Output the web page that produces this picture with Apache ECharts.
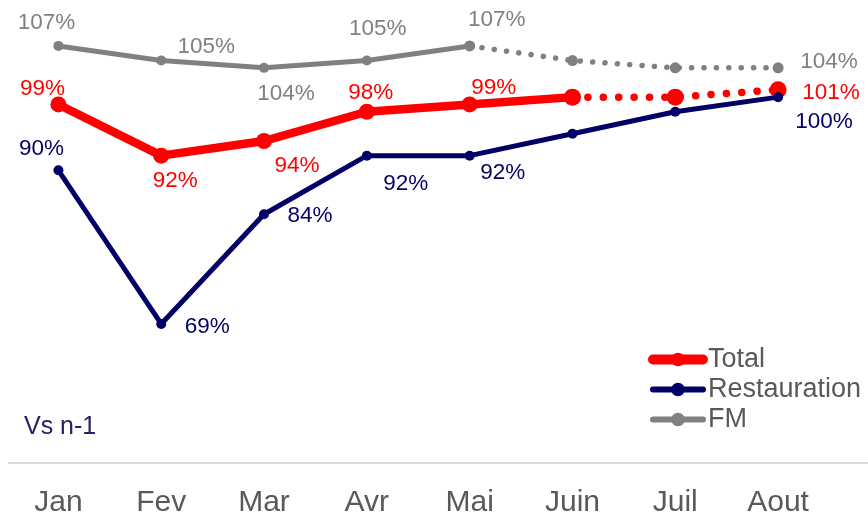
<!DOCTYPE html>
<html>
<head>
<meta charset="utf-8">
<script src="https://cdn.jsdelivr.net/npm/echarts@6/dist/echarts.min.js"></script>
<style>
  html, body { margin: 0; padding: 0; background: #fff; }
  #chart { width: 868px; height: 513px; }
</style>
</head>
<body>
<div id="chart"></div>
<script>
// données
const months = ['Jan', 'Fev', 'Mar', 'Avr', 'Mai', 'Juin', 'Juil', 'Aout'];
const totalValues = [99, 92, 94, 98, 99, 100, 100, 101];
const restaurationValues = [90, 69, 84, 92, 92, 95, 98, 100];
const fmValues = [107, 105, 104, 105, 107, 105, 104, 104];
// index du dernier point réel (après : pointillés)
const totalSolidEnd = 5;
const fmSolidEnd = 4;

// décalage des étiquettes [dx, dy] par rapport au point (null = pas d'étiquette)
const totalLabelOffsets = [[-16, -16], [14, 25], [33, 25], [4, -19], [24, -17], null, null, [53, 3]];
const restaurationLabelOffsets = [[-17, -22], [46, 3], [46, 2], [39, 28], [33, 17], null, null, [46, 25]];
const fmLabelOffsets = [[-12, -23], [45, -14], [22, 26], [11, -32], [27, -26], null, null, [51, -6]];

const pct = v => v + '%';

// construit les points d'une série (from..to), étiquette si un décalage est donné
const buildData = (values, offsets, from, to, color) => {
  return values.map((v, i) => {
    if (i < from || i > to) return null;
    const off = offsets[i];
    if (!off) return { value: v, label: { show: false } };
    return {
      value: v,
      label: {
        show: true,
        position: 'inside',
        offset: off,
        align: 'center',
        verticalAlign: 'middle',
        color: color,
        fontSize: 22.5,
        formatter: () => pct(v)
      }
    };
  });
};

const RED = '#ff0000';
const NAVY = '#000066';
const GREY = '#808080';

const chart = echarts.init(document.getElementById('chart'));

const option = {
  animation: false,
  textStyle: { fontFamily: 'Liberation Sans, Arial, sans-serif' },
  title: {
    text: 'Vs n-1',
    left: 19,
    top: 410,
    textStyle: { fontSize: 25, fontWeight: 'normal', color: '#262262' }
  },
  legend: {
    data: [
      { name: 'Total', lineStyle: { width: 10, cap: 'round' }, itemStyle: { color: RED } },
      { name: 'Restauration', lineStyle: { width: 6, cap: 'round' }, itemStyle: { color: NAVY } },
      { name: 'FM', lineStyle: { width: 6, cap: 'round' }, itemStyle: { color: GREY } }
    ],
    orient: 'vertical',
    left: 643,
    top: 341,
    itemWidth: 50,
    itemHeight: 17,
    itemGap: 3,
    textStyle: { fontSize: 27, color: '#595959' }
  },
  grid: {
    left: 7,
    right: 38.5,
    top: 2,
    bottom: 50,
    containLabel: false,
    outerBoundsMode: 'none'
  },
  xAxis: {
    type: 'category',
    data: months,
    axisLine: { show: false },
    axisTick: { show: false },
    axisLabel: { fontSize: 30, color: '#595959', margin: 25 }
  },
  yAxis: {
    type: 'value',
    min: 50,
    max: 113,
    show: false,
    splitLine: { show: false }
  },
  graphic: [{
    type: 'line',
    shape: { x1: 8, y1: 463, x2: 868, y2: 463 },
    style: { stroke: '#d9d9d9', lineWidth: 2 }
  }],
  series: [
    {
      name: 'FM',
      type: 'line',
      data: buildData(fmValues, fmLabelOffsets, 0, fmSolidEnd, GREY),
      color: GREY,
      symbol: 'circle',
      symbolSize: 10,
      lineStyle: { width: 5, color: GREY },
      itemStyle: { color: GREY }
    },
    {
      name: 'FM prévision',
      type: 'line',
      data: buildData(fmValues, fmLabelOffsets.map((o, i) => i > fmSolidEnd ? o : null), fmSolidEnd, fmValues.length - 1, GREY),
      color: GREY,
      symbol: 'circle',
      symbolSize: 11,
      lineStyle: { width: 5.5, color: GREY, type: [0.1, 12.3], cap: 'round' },
      itemStyle: { color: GREY }
    },
    {
      name: 'Total',
      type: 'line',
      data: buildData(totalValues, totalLabelOffsets, 0, totalSolidEnd, RED),
      color: RED,
      symbol: 'circle',
      symbolSize: 16,
      lineStyle: { width: 8.5, color: RED },
      itemStyle: { color: RED }
    },
    {
      name: 'Total prévision',
      type: 'line',
      data: buildData(totalValues, totalLabelOffsets.map((o, i) => i > totalSolidEnd ? o : null), totalSolidEnd, totalValues.length - 1, RED),
      color: RED,
      symbol: 'circle',
      symbolSize: 17,
      lineStyle: { width: 7.5, color: RED, type: [0.1, 15.3], cap: 'round' },
      itemStyle: { color: RED }
    },
    {
      name: 'Restauration',
      type: 'line',
      data: buildData(restaurationValues, restaurationLabelOffsets, 0, restaurationValues.length - 1, NAVY),
      color: NAVY,
      symbol: 'circle',
      symbolSize: 10,
      lineStyle: { width: 5, color: NAVY },
      itemStyle: { color: NAVY }
    }
  ]
};

chart.setOption(option);
</script>
</body>
</html>
